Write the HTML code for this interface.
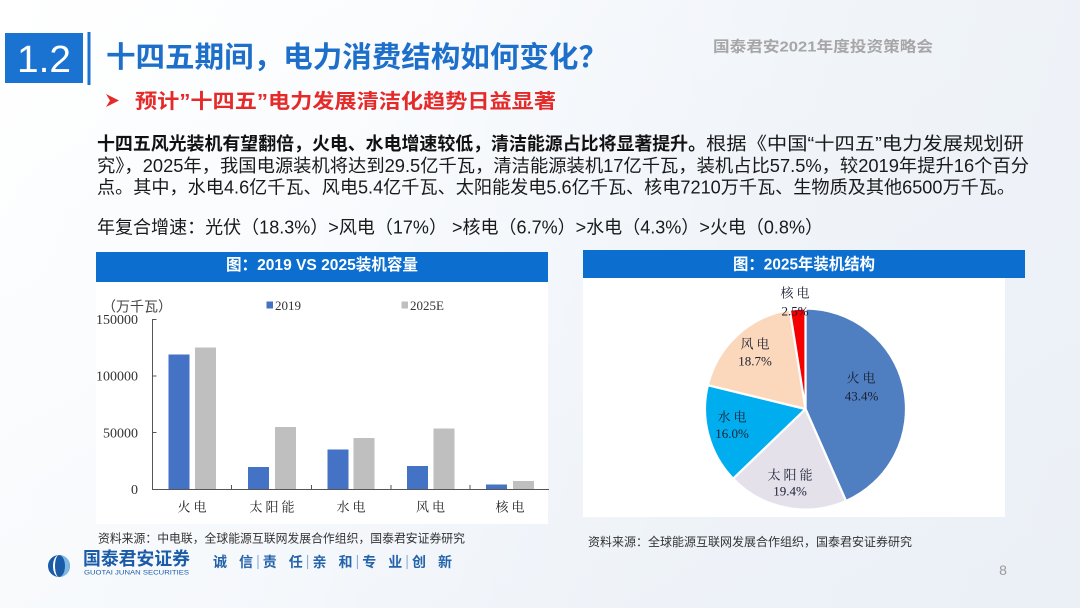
<!DOCTYPE html>
<html><head><meta charset="utf-8">
<style>
html,body{margin:0;padding:0;}
body{width:1080px;height:608px;overflow:hidden;background:linear-gradient(105deg,#ffffff 0%,#fdfeff 30%,#f3f6fa 65%,#eef2f7 100%);}
svg{display:block;}
.sans{font-family:"Liberation Sans","Noto Sans CJK SC",sans-serif;}
.serif{font-family:"Liberation Serif","Noto Serif CJK SC",serif;}
</style></head>
<body>
<svg width="1080" height="608" viewBox="0 0 1080 608" xmlns="http://www.w3.org/2000/svg">
<defs>
<linearGradient id="bg2" x1="0" y1="0" x2="1" y2="1">
<stop offset="0" stop-color="#eef3f9" stop-opacity="0"/>
<stop offset="1" stop-color="#e9eff6" stop-opacity="0.7"/>
</linearGradient>
</defs>
<rect x="0" y="0" width="1080" height="608" fill="url(#bg2)"/>

<!-- header -->
<rect x="5" y="33" width="78" height="50" fill="#1A73D1"/>
<text x="17" y="72" class="sans" font-size="38" fill="#ffffff" textLength="54" lengthAdjust="spacingAndGlyphs">1.2</text>
<rect x="87.5" y="32" width="3" height="53" fill="#1A73D1"/>
<text x="106" y="67" class="sans" font-size="29" font-weight="bold" fill="#1D6FC9" textLength="502" lengthAdjust="spacingAndGlyphs">十四五期间，电力消费结构如何变化？</text>
<text x="713" y="51.5" class="sans" font-size="15" font-weight="bold" fill="#A6A6A6" textLength="220" lengthAdjust="spacingAndGlyphs">国泰君安2021年度投资策略会</text>

<polygon points="106,94 119,100.5 106,107 110,100.5" fill="#E52A2A"/>
<text x="135" y="108" class="sans" font-size="20" font-weight="bold" fill="#E52A2A" textLength="421" lengthAdjust="spacingAndGlyphs">预计”十四五”电力发展清洁化趋势日益显著</text>

<!-- paragraph -->
<text x="97" y="150" class="sans" font-size="18" font-weight="bold" fill="#111" textLength="609" lengthAdjust="spacingAndGlyphs">十四五风光装机有望翻倍，火电、水电增速较低，清洁能源占比将显著提升。</text>
<text x="706" y="150" class="sans" font-size="18" fill="#1a1a1a" textLength="318" lengthAdjust="spacingAndGlyphs">根据《中国“十四五”电力发展规划研</text>
<text x="97" y="172" class="sans" font-size="18" fill="#1a1a1a" textLength="932" lengthAdjust="spacingAndGlyphs">究》，2025年，我国电源装机将达到29.5亿千瓦，清洁能源装机17亿千瓦，装机占比57.5%，较2019年提升16个百分</text>
<text x="97" y="193.5" class="sans" font-size="18" fill="#1a1a1a" textLength="918" lengthAdjust="spacingAndGlyphs">点。其中，水电4.6亿千瓦、风电5.4亿千瓦、太阳能发电5.6亿千瓦、核电7210万千瓦、生物质及其他6500万千瓦。</text>
<text x="97" y="233.5" class="sans" font-size="18" fill="#1a1a1a" textLength="726" lengthAdjust="spacingAndGlyphs">年复合增速：光伏（18.3%）&gt;风电（17%） &gt;核电（6.7%）&gt;水电（4.3%）&gt;火电（0.8%）</text>

<!-- bar chart panel -->
<rect x="96" y="281" width="452" height="243" fill="#ffffff"/>
<rect x="96" y="252" width="452" height="30" fill="#0C6FD0"/>
<text x="322" y="270" class="sans" font-size="16" font-weight="bold" fill="#ffffff" text-anchor="middle" textLength="192" lengthAdjust="spacingAndGlyphs">图：2019 VS 2025装机容量</text>

<text x="102" y="311.5" class="sans" font-size="14" fill="#444">（万千瓦）</text>
<rect x="266.5" y="301.5" width="6.5" height="7" fill="#4472C4"/>
<text x="275" y="310" class="serif" font-size="13" fill="#333">2019</text>
<rect x="401.5" y="301.5" width="6.5" height="7" fill="#BFBFBF"/>
<text x="410" y="310" class="serif" font-size="13" fill="#333">2025E</text>

<g class="serif" font-size="14" fill="#333" text-anchor="end">
<text x="138" y="324">150000</text>
<text x="138" y="380.5">100000</text>
<text x="138" y="437.5">50000</text>
<text x="138" y="494">0</text>
</g>
<g stroke="#555" stroke-width="1" fill="none">
<line x1="152.5" y1="319" x2="152.5" y2="489.5"/>
<line x1="152" y1="489.5" x2="549" y2="489.5"/>
<line x1="152.5" y1="319.5" x2="156.5" y2="319.5"/>
<line x1="152.5" y1="376" x2="156.5" y2="376"/>
<line x1="152.5" y1="432.5" x2="156.5" y2="432.5"/>
<line x1="231.5" y1="485" x2="231.5" y2="489.5"/>
<line x1="311.5" y1="485" x2="311.5" y2="489.5"/>
<line x1="391" y1="485" x2="391" y2="489.5"/>
<line x1="470" y1="485" x2="470" y2="489.5"/>
</g>
<g fill="#4472C4">
<rect x="168.5" y="354.5" width="21" height="134.5"/>
<rect x="248" y="467" width="21" height="22"/>
<rect x="327.5" y="449.5" width="21" height="39.5"/>
<rect x="407" y="466" width="21" height="23"/>
<rect x="486" y="484.5" width="21" height="4.5"/>
</g>
<g fill="#BFBFBF">
<rect x="195" y="347.5" width="21" height="141.5"/>
<rect x="275" y="427" width="21" height="62"/>
<rect x="353.5" y="438" width="21" height="51"/>
<rect x="433.5" y="428.5" width="21" height="60.5"/>
<rect x="513" y="481" width="21" height="8"/>
</g>
<g class="serif" font-size="13" fill="#222" text-anchor="middle" letter-spacing="3">
<text x="193.5" y="511.5">火电</text>
<text x="273.5" y="511.5">太阳能</text>
<text x="352.5" y="511.5">水电</text>
<text x="432" y="511.5">风电</text>
<text x="511.5" y="511.5">核电</text>
</g>
<text x="98" y="542.5" class="sans" font-size="12" fill="#333" textLength="367" lengthAdjust="spacingAndGlyphs">资料来源：中电联，全球能源互联网发展合作组织，国泰君安证券研究</text>

<!-- pie panel -->
<rect x="583" y="277" width="422" height="240" fill="#ffffff"/>
<rect x="583" y="250" width="442" height="28" fill="#0C6FD0"/>
<text x="804" y="269.5" class="sans" font-size="16" font-weight="bold" fill="#ffffff" text-anchor="middle" textLength="142" lengthAdjust="spacingAndGlyphs">图：2025年装机结构</text>

<g stroke="#ffffff" stroke-width="2.2" stroke-linejoin="round">
<path d="M805.5,409 L805.5,308.5 A100.5,100.5 0 0 1 845.99,500.98 Z" fill="#4F7FC1"/>
<path d="M805.5,409 L845.99,500.98 A100.5,100.5 0 0 1 733.12,478.72 Z" fill="#E4E1EB"/>
<path d="M805.5,409 L733.12,478.72 A100.5,100.5 0 0 1 707.85,385.23 Z" fill="#00AEEF"/>
<path d="M805.5,409 L707.85,385.23 A100.5,100.5 0 0 1 789.78,309.74 Z" fill="#FBD8BB"/>
<path d="M805.5,409 L789.78,309.74 A100.5,100.5 0 0 1 805.5,308.5 Z" fill="#F40000"/>
</g>
<g class="serif" font-size="13" fill="#1a1f33" text-anchor="middle">
<text x="862.5" y="382.5" letter-spacing="3">火电</text>
<text x="861.5" y="400.5">43.4%</text>
<text x="791.5" y="479.5" letter-spacing="3">太阳能</text>
<text x="790" y="495.5">19.4%</text>
<text x="733.5" y="421.5" letter-spacing="3">水电</text>
<text x="732" y="438">16.0%</text>
<text x="756.5" y="348.5" letter-spacing="3">风电</text>
<text x="755" y="365.5">18.7%</text>
<text x="796.5" y="297.5" letter-spacing="3">核电</text>
<text x="795" y="315.5">2.5%</text>
</g>
<text x="588" y="546" class="sans" font-size="12" fill="#333" textLength="324" lengthAdjust="spacingAndGlyphs">资料来源：全球能源互联网发展合作组织，国泰君安证券研究</text>

<!-- footer -->
<circle cx="59" cy="566" r="11" fill="#1A5BA8"/>
<path d="M59,555 A11,11 0 0 1 59,577 A6,11 0 0 0 59,555 Z" fill="#7FB8E6"/>
<path d="M59,555 A6,11 0 0 0 59,577 A4,11 0 0 1 59,555 Z" fill="#ffffff"/>
<text x="83" y="565" class="sans" font-size="18" font-weight="bold" fill="#1A5BA8" textLength="107" lengthAdjust="spacingAndGlyphs">国泰君安证券</text>
<text x="84" y="574.5" class="sans" font-size="6.5" fill="#1A5BA8" textLength="105" lengthAdjust="spacingAndGlyphs">GUOTAI JUNAN SECURITIES</text>
<g class="sans" font-size="14" font-weight="bold" fill="#2463AA">
<text x="213" y="567">诚</text><text x="239" y="567">信</text>
<text x="262.75" y="567">责</text><text x="288.75" y="567">任</text>
<text x="312.5" y="567">亲</text><text x="338.5" y="567">和</text>
<text x="362.25" y="567">专</text><text x="388.25" y="567">业</text>
<text x="412" y="567">创</text><text x="438" y="567">新</text>
</g>
<g stroke="#7FA7D3" stroke-width="1">
<line x1="258" y1="555" x2="258" y2="569"/>
<line x1="307.6" y1="555" x2="307.6" y2="569"/>
<line x1="357.4" y1="555" x2="357.4" y2="569"/>
<line x1="407.1" y1="555" x2="407.1" y2="569"/>
</g>
<text x="1003" y="575" class="sans" font-size="14" fill="#9A9A9A" text-anchor="middle">8</text>
</svg>
</body></html>
